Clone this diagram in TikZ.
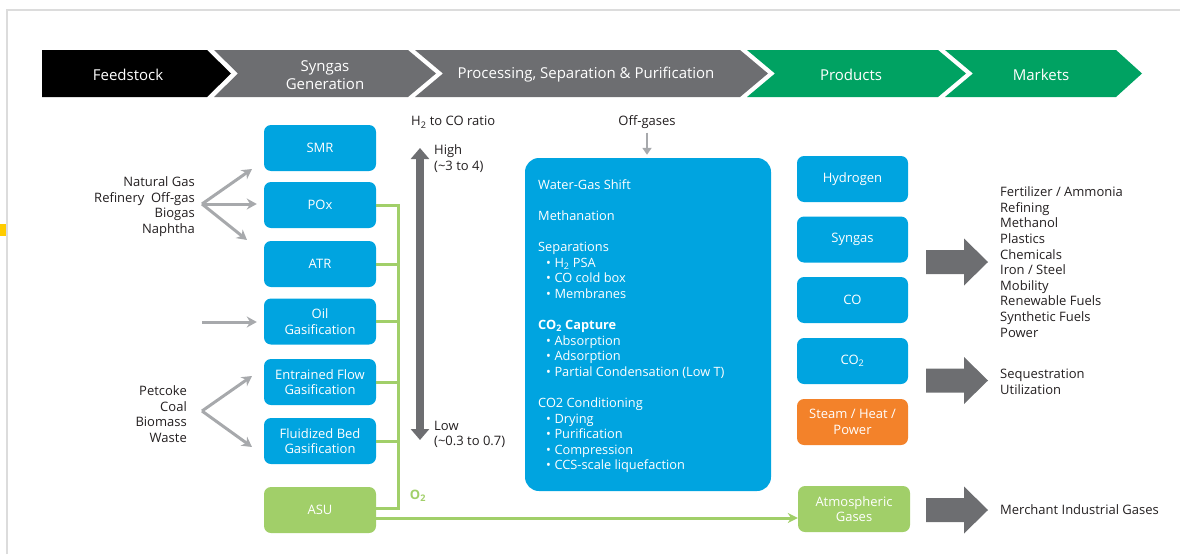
\documentclass[tikz,border=0pt]{standalone}
\usepackage{fontspec}
\setmainfont{Open Sans}
\usetikzlibrary{arrows.meta,calc}
\definecolor{cblue}{HTML}{00A4E0}
\definecolor{cgreen}{HTML}{A1CF69}
\definecolor{corange}{HTML}{F3822A}
\definecolor{cbgreen}{HTML}{00A262}
\definecolor{cdgray}{HTML}{6D6E71}
\definecolor{clgray}{HTML}{A7A9AC}
\definecolor{ctext}{HTML}{231F20}
\definecolor{cframe}{HTML}{DCDCDC}
\definecolor{cyellow}{HTML}{FFCC00}
\tikzset{
  bfont/.style={font=\fontsize{13}{15.6}\selectfont},
  bbox/.style={fill=cblue, rounded corners=7pt, minimum width=112pt, minimum height=46pt,
    text=white, align=center, inner sep=0pt, bfont},
  gbox/.style={bbox, fill=cgreen},
  obox/.style={bbox, fill=corange},
  lbl/.style={text=ctext, inner sep=0pt, bfont},
  banner/.style={text=white, align=center, inner sep=0pt, font=\fontsize{15}{18}\selectfont},
  feedarrow/.style={draw=clgray, line width=3pt, -{Stealth[length=10pt,width=11pt]}},
  o2line/.style={draw=cgreen, line width=3pt},
  fatarrow/.pic={\fill[cdgray] (0,-12) -- (38,-12) -- (38,-23.5) -- (62,0) -- (38,23.5) -- (38,12) -- (0,12) -- cycle;}
}
\newcommand{\bul}{\hspace*{8pt}\textbullet\hspace{3.5pt}}
\begin{document}
\begin{tikzpicture}[x=1pt,y=-1pt]
\useasboundingbox (0,0) rectangle (1180,554);
% frame
\draw[cframe, line width=2.5pt] (7,554) -- (7,10) -- (1180,10);
\fill[cyellow] (0,224) rectangle (6,236);

% banner chevrons
\fill[black] (42,50) -- (207,50) -- (231,73.5) -- (207,97) -- (42,97) -- cycle;
\fill[cdgray] (214,50) -- (408,50) -- (436,73.5) -- (408,97) -- (214,97) -- (238,73.5) -- cycle;
\fill[cdgray] (415,50) -- (740,50) -- (768,73.5) -- (740,97) -- (415,97) -- (443,73.5) -- cycle;
\fill[cbgreen] (747,50) -- (938,50) -- (966,73.5) -- (938,97) -- (747,97) -- (775,73.5) -- cycle;
\fill[cbgreen] (945,50) -- (1116,50) -- (1142,73.5) -- (1116,97) -- (945,97) -- (973,73.5) -- cycle;
\node[banner] (hfeed) at (128,75) {Feedstock};
\node[banner] (hsyn) at (325,75) {Syngas\\Generation};
\node[banner] (hproc) at (586,75) {Processing, Separation \& Purification};
\node[banner] (hprod) at (851,75) {Products};
\node[banner] (hmark) at (1041,75) {Markets};

% syngas generation boxes
\node[bbox] (smr) at (320,148) {SMR};
\node[bbox] (pox) at (320,205) {POx};
\node[bbox] (atr) at (320,264) {ATR};
\node[bbox] (oil) at (320,321.5) {Oil\\Gasification};
\node[bbox] (ef) at (320,382) {Entrained Flow\\Gasification};
\node[bbox] (fb) at (320,441) {Fluidized Bed\\Gasification};
\node[gbox] (asu) at (320,510) {ASU};

% feedstock labels
\node[lbl, anchor=east, align=right] (gasfeed) at (195,206.5) {Natural Gas\\Refinery\ \ Off-gas\\Biogas\\Naphtha};
\node[lbl, anchor=east, align=right] (solidfeed) at (187,414) {Petcoke\\Coal\\Biomass\\Waste};
\coordinate (fan1) at (202,204);
\coordinate (fan1a) at (252,169);
\coordinate (fan1c) at (247,240);
\coordinate (fan2) at (202,411);
\coordinate (fan2a) at (252,376);
\coordinate (fan2b) at (252,447);
\coordinate (oilin) at (202,322);
\draw[feedarrow] (fan1) -- (fan1a);
\draw[feedarrow, shorten >=7pt] (fan1) -- (fan1 -| pox.west);
\draw[feedarrow] (fan1) -- (fan1c);
\draw[feedarrow] (fan2) -- (fan2a);
\draw[feedarrow] (fan2) -- (fan2b);
\draw[feedarrow, shorten >=7pt] (oilin) -- (oilin -| oil.west);

% oxygen bus
\coordinate (bustop) at (398,205);
\coordinate (busbot) at (398,508);
\draw[o2line] (pox.east) -- (bustop) -- (busbot) -- ([yshift=2pt]asu.east);
\draw[o2line] (atr.east) -- (atr.east -| bustop);
\draw[o2line] (oil.east) -- (oil.east -| bustop);
\draw[o2line] (ef.east) -- (ef.east -| bustop);
\draw[o2line] (fb.east) -- (fb.east -| bustop);
\node[text=cgreen, inner sep=0pt, font=\fontsize{13}{15}\selectfont\bfseries] (o2lbl) at (418,496) {O\textsubscript{2}};

% ratio arrow
\coordinate (rtop) at (420,148);
\coordinate (rbot) at (420,440);
\draw[cdgray, line width=8pt, {Triangle[width=18pt,length=11pt]}-{Triangle[width=18pt,length=11pt]}] (rtop) -- (rbot);
\node[lbl, anchor=west] (ratiolbl) at (411,122) {H\textsubscript{2} to CO ratio};
\node[lbl, anchor=west, align=left] (highlbl) at (434,158.5) {High\\(\textasciitilde3 to 4)};
\node[lbl, anchor=west, align=left] (lowlbl) at (434,434.5) {Low\\(\textasciitilde0.3 to 0.7)};

% processing box
\node[fill=cblue, rounded corners=14pt, minimum width=246pt, minimum height=333pt, inner sep=0pt] (proc) at (648,324.5) {};
\node[text=white, anchor=north west, align=left, inner sep=0pt, font=\fontsize{12.8}{15.6}\selectfont] (proctext) at (538,179) {%
Water-Gas Shift\\[15.6pt]
Methanation\\[15.6pt]
Separations\\
\bul H\textsubscript{2} PSA\\
\bul CO cold box\\
\bul Membranes\\[15.6pt]
\textbf{CO\textsubscript{2} Capture}\\
\bul Absorption\\
\bul Adsorption\\
\bul Partial Condensation (Low T)\\[15.6pt]
CO2 Conditioning\\
\bul Drying\\
\bul Purification\\
\bul Compression\\
\bul CCS-scale liquefaction};
\node[lbl] (offg) at (647,122) {Off-gases};
\draw[draw=clgray, line width=2.5pt, -{Triangle[width=9pt,length=7pt]}] ([yshift=-4pt]offg.south) -- ([yshift=3pt]proc.north -| offg);

% products
\node[bbox, minimum width=111pt] (hyd) at (852.5,179) {Hydrogen};
\node[bbox, minimum width=111pt] (syn) at (852.5,239.5) {Syngas};
\node[bbox, minimum width=111pt] (co) at (852.5,300) {CO};
\node[bbox, minimum width=111pt] (co2) at (852.5,361) {CO\textsubscript{2}};
\node[obox, minimum width=111pt] (steam) at (852.5,422) {Steam / Heat /\\Power};
\node[gbox, minimum width=112pt] (atm) at (854,509) {Atmospheric\\Gases};
\coordinate (asuout) at ($(asu.east)+(0,8)$);
\draw[o2line, -{Stealth[length=10pt,width=10pt]}] (asuout) -- (asuout -| atm.west);

% markets
\pic at (926,262) {fatarrow};
\pic at (926,380.5) {fatarrow};
\pic at (926,510) {fatarrow};
\node[lbl, anchor=west, align=left] (mk1) at (1000,262) {Fertilizer / Ammonia\\Refining\\Methanol\\Plastics\\Chemicals\\Iron / Steel\\Mobility\\Renewable Fuels\\Synthetic Fuels\\Power};
\node[lbl, anchor=west, align=left] (mk2) at (1000,382) {Sequestration\\Utilization};
\node[lbl, anchor=west] (mk3) at (1000,510) {Merchant Industrial Gases};
\end{tikzpicture}
\end{document}
